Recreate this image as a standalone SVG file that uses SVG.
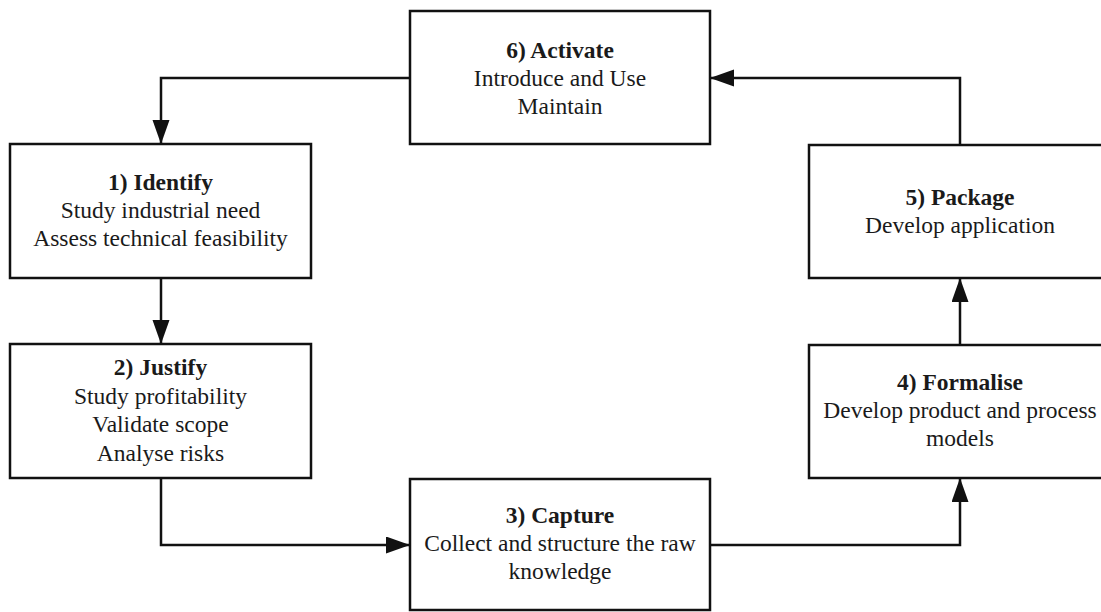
<svg xmlns="http://www.w3.org/2000/svg" width="1101" height="612" viewBox="0 0 1101 612">
  <style>
    .box { fill: #ffffff; stroke: #111111; stroke-width: 2.5; }
    .wire { fill: none; stroke: #111111; stroke-width: 2.5; }
    .lbl { font-family: 'Liberation Serif', 'Times New Roman', Times, 'DejaVu Serif', serif; font-size: 23.5px; fill: #1a1a1a; text-anchor: middle; }
    .title { font-weight: bold; }
  </style>
  <defs>
    <!-- solid triangular arrowhead, tip sits on the target edge -->
    <marker id="head" markerUnits="userSpaceOnUse" markerWidth="25" markerHeight="18" refX="24" refY="8.5" orient="auto">
      <path d="M0,0 L24,8.5 L0,17 Z" fill="#111111"/>
    </marker>
  </defs>
  <rect width="1101" height="612" fill="#ffffff"/>

  <g id="connectors">
    <polyline class="wire" points="410,78 161,78 161,144" marker-end="url(#head)"/>
    <polyline class="wire" points="161,278 161,344" marker-end="url(#head)"/>
    <polyline class="wire" points="161,478 161,545 410,545" marker-end="url(#head)"/>
    <polyline class="wire" points="710,545 960,545 960,478" marker-end="url(#head)"/>
    <polyline class="wire" points="960,345 960,278" marker-end="url(#head)"/>
    <polyline class="wire" points="960,145 960,78 710,78" marker-end="url(#head)"/>
  </g>

  <g class="lbl">
    <g id="node-activate">
      <rect class="box" x="410" y="11" width="300" height="133"/>
      <text class="title" x="560" y="58">6) Activate</text>
      <text x="560" y="86">Introduce and Use</text>
      <text x="560" y="114">Maintain</text>
    </g>

    <g id="node-identify">
      <rect class="box" x="10" y="144" width="301" height="134"/>
      <text class="title" x="160.5" y="190">1) Identify</text>
      <text x="160.5" y="218">Study industrial need</text>
      <text x="160.5" y="246">Assess technical feasibility</text>
    </g>

    <g id="node-justify">
      <rect class="box" x="10" y="344" width="301" height="134"/>
      <text class="title" x="160.5" y="375">2) Justify</text>
      <text x="160.5" y="404">Study profitability</text>
      <text x="160.5" y="432">Validate scope</text>
      <text x="160.5" y="461">Analyse risks</text>
    </g>

    <g id="node-capture">
      <rect class="box" x="410" y="479" width="300" height="131"/>
      <text class="title" x="560" y="523">3) Capture</text>
      <text x="560" y="551">Collect and structure the raw</text>
      <text x="560" y="579">knowledge</text>
    </g>

    <g id="node-formalise">
      <rect class="box" x="809" y="345" width="310" height="133"/>
      <text class="title" x="960" y="390">4) Formalise</text>
      <text x="960" y="418">Develop product and process</text>
      <text x="960" y="446">models</text>
    </g>

    <g id="node-package">
      <rect class="box" x="809" y="145" width="310" height="133"/>
      <text class="title" x="960" y="205">5) Package</text>
      <text x="960" y="233">Develop application</text>
    </g>
  </g>
</svg>
